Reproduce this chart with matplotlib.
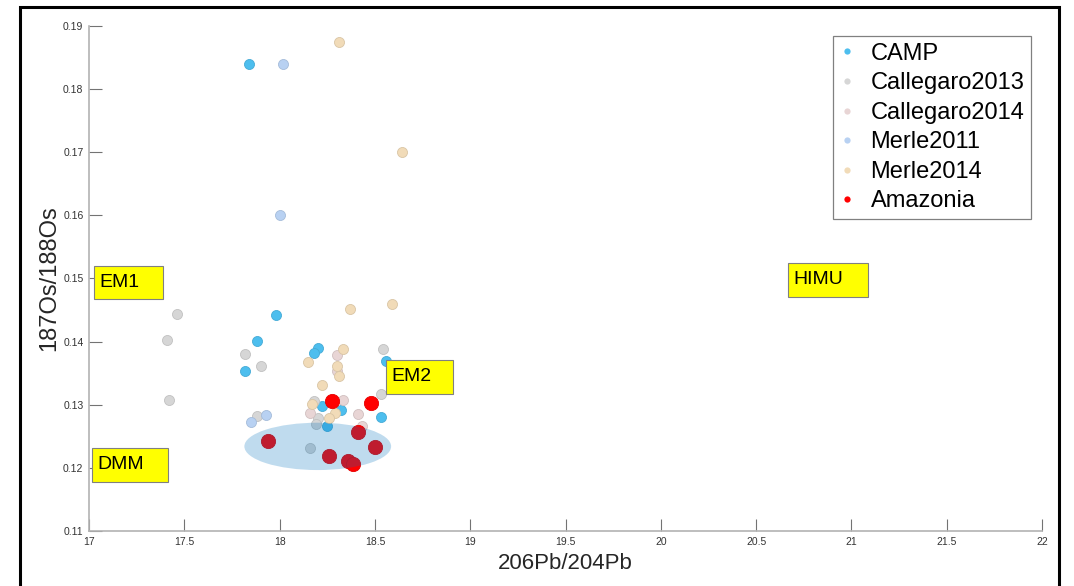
import matplotlib
matplotlib.use('Agg')
import matplotlib.pyplot as plt
from matplotlib.patches import Ellipse, Rectangle
from matplotlib.lines import Line2D
import numpy as np

plt.rcParams['font.family'] = ['Liberation Sans', 'DejaVu Sans']

# 206Pb/204Pb vs 187Os/188Os for each data set
camp_x = [17.84, 17.98, 17.88, 17.82, 18.20, 18.18, 18.56, 18.22, 18.32, 18.25, 18.53]
camp_y = [0.1840, 0.1442, 0.1401, 0.1353, 0.1390, 0.1382, 0.1369, 0.1298, 0.1292, 0.1266, 0.1280]

callegaro2013_x = [17.46, 17.41, 17.42, 17.82, 17.90, 18.54, 18.53, 18.18, 17.88, 18.20, 18.19, 18.16]
callegaro2013_y = [0.1443, 0.1402, 0.1307, 0.1380, 0.1361, 0.1389, 0.1317, 0.1306, 0.1282, 0.1279, 0.1270, 0.1231]

callegaro2014_x = [18.30, 18.30, 18.33, 18.16, 18.41, 18.43]
callegaro2014_y = [0.1379, 0.1353, 0.1307, 0.1287, 0.1285, 0.1266]

merle2011_x = [18.02, 18.00, 17.85, 17.93]
merle2011_y = [0.1840, 0.1600, 0.1273, 0.1283]

merle2014_x = [18.31, 18.64, 18.37, 18.59, 18.15, 18.33, 18.30, 18.31, 18.22, 18.17, 18.29, 18.26]
merle2014_y = [0.1874, 0.1701, 0.1451, 0.1459, 0.1368, 0.1388, 0.1362, 0.1346, 0.1331, 0.1301, 0.1287, 0.1279]

amazonia_x = [18.275, 18.48, 17.94, 18.26, 18.41, 18.50, 18.36, 18.385]
amazonia_y = [0.1306, 0.1303, 0.1243, 0.1219, 0.1256, 0.1233, 0.1211, 0.1206]

# shaded field: centre and full extent
field_center = (18.20, 0.1234)
field_size = (0.77, 0.0075)

# mantle end-members
endmembers = ['EM1', 'DMM', 'EM2', 'HIMU']

xticks = np.arange(17, 22.01, 0.5)
yticks = np.arange(0.11, 0.1901, 0.01)

# label box layout: (x0, y0, width, height) in data units
box_layout = {
    'EM1': (17.026, 0.14675, 0.362, 0.00523),
    'DMM': (17.016, 0.11776, 0.398, 0.00539),
    'EM2': (18.558, 0.13170, 0.351, 0.00540),
    'HIMU': (20.667, 0.14710, 0.420, 0.00536),
}

series = [
    ('CAMP', camp_x, camp_y, (0.30, 0.745, 0.933), 52),
    ('Callegaro2013', callegaro2013_x, callegaro2013_y, (0.84, 0.84, 0.84), 52),
    ('Callegaro2014', callegaro2014_x, callegaro2014_y, (0.91, 0.835, 0.835), 52),
    ('Merle2011', merle2011_x, merle2011_y, (0.72, 0.82, 0.95), 52),
    ('Merle2014', merle2014_x, merle2014_y, (0.945, 0.86, 0.72), 52),
    ('Amazonia', amazonia_x, amazonia_y, (1.0, 0.0, 0.0), 105),
]

fig = plt.figure(figsize=(10.74, 5.86), dpi=100)
ax = fig.add_axes([0.0829, 0.0939, 0.8873, 0.8618])

handles = []
for name, xs, ys, col, size in series:
    edge = tuple(c * 0.9 for c in col)
    ax.scatter(xs, ys, s=size, color=col, edgecolors=[edge], linewidths=0.6, zorder=3)
    handles.append(Line2D([], [], marker='o', ls='', color=col, markersize=4.5,
                          markeredgewidth=0, label=name))

field = Ellipse(field_center, field_size[0], field_size[1],
                facecolor=(0.0, 0.447, 0.741), alpha=0.25, edgecolor='none', zorder=4)
ax.add_patch(field)

for name in endmembers:
    x0, y0, w, h = box_layout[name]
    ax.add_patch(Rectangle((x0, y0), w, h, facecolor=(1, 1, 0), edgecolor='0.5',
                           linewidth=0.8, zorder=5, clip_on=False))
    ax.text(x0 + 0.03, y0 + h / 2, name, fontsize=14, va='center', ha='left',
            color='black', zorder=6)

ax.set_xlim(17, 22)
ax.set_ylim(0.11, 0.19)
ax.set_xticks(xticks)
ax.set_yticks(yticks)
ax.set_xticklabels([f'{v:g}' for v in xticks])
ax.set_yticklabels([f'{v:.2f}' for v in yticks])
ax.tick_params(direction='in', length=9, width=0.8, color='0.45', labelsize=7.5,
               labelcolor='0.2', pad=4)
for side in ['top', 'right']:
    ax.spines[side].set_visible(False)
for side in ['left', 'bottom']:
    ax.spines[side].set_color('0.7')
    ax.spines[side].set_linewidth(1.2)

ax.set_xlabel('206Pb/204Pb', fontsize=16, color='0.15', labelpad=5)
ax.set_ylabel('187Os/188Os', fontsize=17, color='0.15', labelpad=2)

leg = ax.legend(handles=handles, loc='upper right', bbox_to_anchor=(0.9885, 0.980),
                fontsize=17, frameon=True, fancybox=False, framealpha=1,
                edgecolor='0.5', handlelength=0.6, handletextpad=0.7,
                labelspacing=0.32, borderpad=0.28, borderaxespad=0)
leg.get_frame().set_linewidth(0.9)
leg.set_zorder(10)

# outer black frame round the figure
fig.patches.append(Rectangle((20 / 1074, -0.05), 1039 / 1074, 1.05 - 7.5 / 586,
                             transform=fig.transFigure, fill=False,
                             edgecolor='black', linewidth=2.2, zorder=20))

fig.savefig('out.png', dpi=100)
